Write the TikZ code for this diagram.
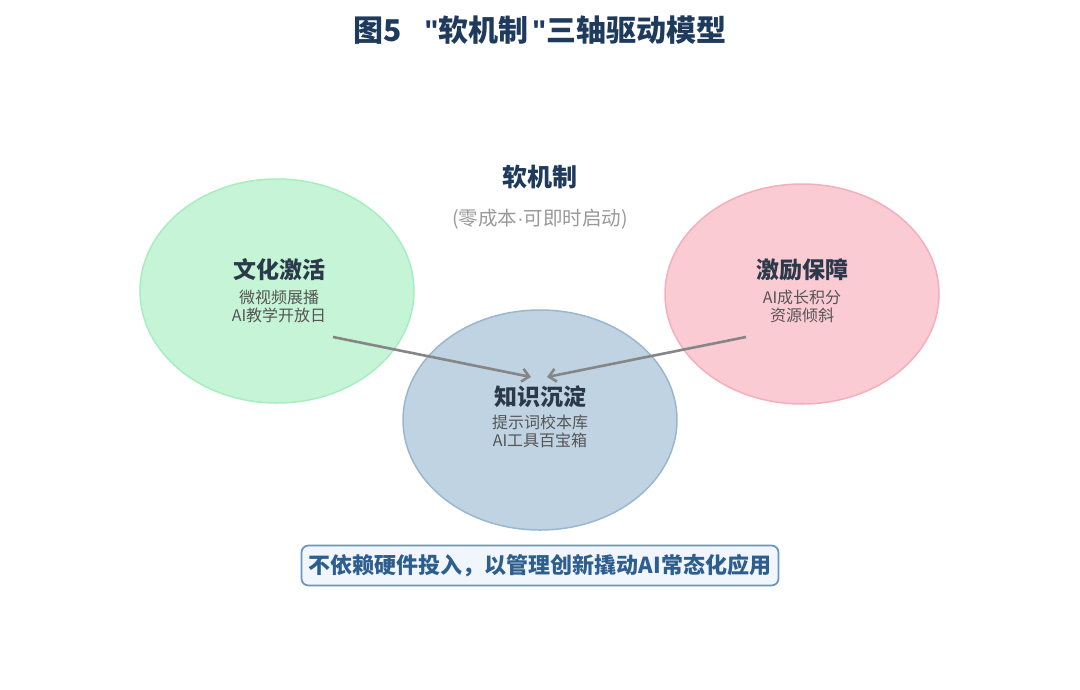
\documentclass[tikz,border=0pt]{standalone}
\usepackage{fontspec}
\setmainfont{Noto Sans CJK SC}
\newfontfamily\latinf{Liberation Sans}
\usetikzlibrary{arrows.meta}
\definecolor{navy}{HTML}{1E3A5C}
\definecolor{dark}{HTML}{2B3A4A}
\definecolor{mid}{HTML}{555555}
\definecolor{lightgray}{HTML}{999999}
\definecolor{gfill}{HTML}{C5F5D6}
\definecolor{gline}{HTML}{A6EEC0}
\definecolor{pfill}{HTML}{FBCBD4}
\definecolor{pline}{HTML}{F5AEBB}
\definecolor{bfill}{HTML}{C0D3E3}
\definecolor{bline}{HTML}{9AB7D0}
\definecolor{arrowc}{HTML}{868686}
\definecolor{boxline}{HTML}{6A96C0}
\definecolor{boxfill}{HTML}{F0F6FC}
\definecolor{boxtext}{HTML}{2E5E8E}
\newcommand{\sq}{{\latinf\bfseries\char34}}
\tikzset{
  headtxt/.style={font=\fontsize{23}{26}\selectfont\bfseries, text=dark},
  subtxt/.style={font=\fontsize{16}{19}\selectfont, text=mid, align=center},
  flow/.style={draw=arrowc, line width=2.6pt, -{Straight Barb[length=7pt,width=13pt]}},
}
\begin{document}
\begin{tikzpicture}[x=1pt,y=-1pt]
\useasboundingbox[fill=white] (0,0) rectangle (1080,689);
% title
\node[font=\fontsize{30}{34}\selectfont\bfseries, text=navy] (title) at (540,30) {图5\hspace{0.75em}\sq 软机制\hspace{0.12em}\sq 三轴驱动模型};
% ellipses
\fill[gfill] (277,291) ellipse [x radius=137, y radius=112];
\draw[gline, line width=1.5pt] (277,291) ellipse [x radius=137, y radius=112];
\fill[pfill] (802,294) ellipse [x radius=137, y radius=110];
\draw[pline, line width=1.5pt] (802,294) ellipse [x radius=137, y radius=110];
\fill[bfill] (540,420) ellipse [x radius=137, y radius=110];
\draw[bline, line width=1.5pt] (540,420) ellipse [x radius=137, y radius=110];
% center labels
\node[font=\fontsize{25}{28}\selectfont\bfseries, text=navy] (soft) at (540,177) {软机制};
\node[font=\fontsize{19.5}{22}\selectfont, text=lightgray] (softsub) at (540,219) {(零成本{\latinf ·}可即时启动)};
% green
\node[headtxt] (culture) at (279,270) {文化激活};
\node[subtxt] (culturesub) at (279,306) {微视频展播\\[-1pt]AI教学开放日};
% pink
\node[headtxt] (reward) at (802,270) {激励保障};
\node[subtxt] (rewardsub) at (802,306) {AI成长积分\\[-1pt]资源倾斜};
% blue
\node[headtxt] (know) at (540,397) {知识沉淀};
\node[subtxt] (knowsub) at (540,431) {提示词校本库\\[-1pt]AI工具百宝箱};
% arrows
\coordinate (a1) at (333,337);
\coordinate (a1e) at (531,377);
\coordinate (a2) at (746,337);
\coordinate (a2e) at (547,377);
\draw[flow] (a1) -- (a1e);
\draw[flow] (a2) -- (a2e);
% bottom box
\node[draw=boxline, fill=boxfill, line width=1.8pt, rounded corners=7pt,
      minimum width=477pt, minimum height=40pt, inner sep=0pt,
      font=\fontsize{22}{24}\selectfont\bfseries, text=boxtext] (note) at (540,565.5)
      {不依赖硬件投入，以管理创新撬动AI常态化应用};
\end{tikzpicture}
\end{document}
